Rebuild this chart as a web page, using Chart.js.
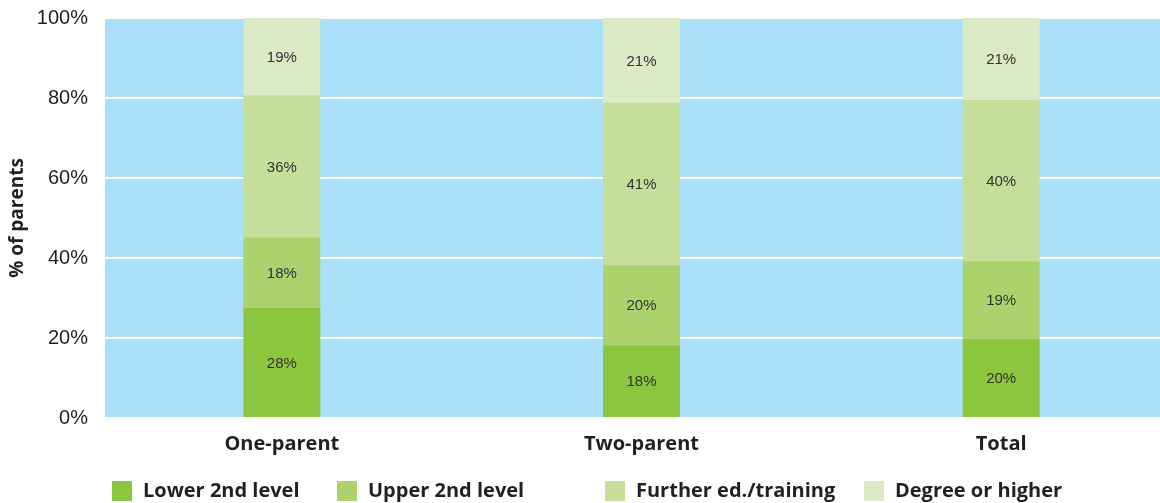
<!DOCTYPE html>
<html>
<head>
<meta charset="utf-8">
<script src="https://cdn.jsdelivr.net/npm/chart.js@4/dist/chart.umd.min.js"></script>
<style>
  html, body { margin: 0; padding: 0; background: #fff; overflow: hidden; }
  #wrap { width: 1181px; height: 503px; }
</style>
</head>
<body>
<div id="wrap"><canvas id="edu-chart"></canvas></div>
<script>
// data
var categories = ["One-parent", "Two-parent", "Total"];
var seriesNames = ["Lower 2nd level", "Upper 2nd level", "Further ed./training", "Degree or higher"];
var lowerSecond = [27.5, 18.2, 19.8];
var upperSecond = [17.6, 20.0, 19.4];
var furtherEd = [35.5, 40.6, 40.3];
var degree = [19.4, 21.2, 20.5];
var yTicks = [0, 20, 40, 60, 80, 100];

var colours = ["#8cc63f", "#acd26e", "#c5df9a", "#dce9c5"];
var plotBg = "#aae0fa";

var boldFont = "'Open Sans', 'Noto Sans', sans-serif";
var plainFont = "'Liberation Sans', Arial, sans-serif";

var canvasElement = document.getElementById("edu-chart");

var plotBackground = {
    id: "plotBackground",
    beforeDraw: function(chart) {
        var a = chart.chartArea, ctx = chart.ctx;
        ctx.save();
        ctx.fillStyle = plotBg;
        ctx.fillRect(a.left + 3, a.top, a.right - a.left, a.bottom - a.top);
        ctx.restore();
    }
};

var barLabels = {
    id: "barLabels",
    afterDatasetsDraw: function(chart) {
        var ctx = chart.ctx;
        ctx.save();
        ctx.font = "15px " + plainFont;
        ctx.fillStyle = "#333333";
        ctx.textAlign = "center";
        ctx.textBaseline = "middle";
        chart.data.datasets.forEach(function(ds, i) {
            chart.getDatasetMeta(i).data.forEach(function(bar, j) {
                var mid = (bar.y + bar.base) / 2;
                ctx.fillText(Math.round(ds.data[j]) + "%", bar.x, mid + 1);
            });
        });
        ctx.restore();
    }
};

// legend drawn by hand so the uneven spacing of the original can be kept
var legendX = [112, 337, 605, 864];
var customLegend = {
    id: "customLegend",
    afterDraw: function(chart) {
        var ctx = chart.ctx;
        ctx.save();
        ctx.font = "bold 20px " + boldFont;
        ctx.textBaseline = "middle";
        ctx.textAlign = "left";
        chart.data.datasets.forEach(function(ds, i) {
            ctx.fillStyle = ds.backgroundColor;
            ctx.fillRect(legendX[i], 481, 20, 20);
            ctx.fillStyle = "#231f20";
            ctx.fillText(ds.label, legendX[i] + 31, 491);
        });
        ctx.restore();
    }
};

var seriesData = [lowerSecond, upperSecond, furtherEd, degree];
var datasets = seriesData.map(function(vals, i) {
    return {
        label: seriesNames[i],
        data: vals,
        backgroundColor: colours[i],
        borderWidth: 0,
        categoryPercentage: 1.0,
        barPercentage: 0.214
    };
});

var config = {
    type: "bar",
    data: { labels: categories, datasets: datasets },
    options: {
        responsive: true,
        maintainAspectRatio: false,
        animation: false,
        layout: { padding: { top: 18, right: 0, bottom: 0, left: 0 } },
        plugins: {
            legend: { display: false },
            tooltip: { enabled: false }
        },
        scales: {
            x: {
                stacked: true,
                grid: { display: false, drawTicks: false },
                border: { display: false },
                ticks: {
                    color: "#231f20",
                    padding: 14,
                    font: { family: boldFont, size: 20, weight: "bold" }
                },
                afterFit: function(scale) {
                    scale.height = 85;
                    scale.paddingLeft = 0;
                    scale.paddingRight = 0;
                }
            },
            y: {
                stacked: true,
                min: 0,
                max: 100,
                afterBuildTicks: function(scale) {
                    scale.ticks = yTicks.map(function(v) { return { value: v }; });
                },
                grid: { color: "#ffffff", lineWidth: 2, drawTicks: false },
                border: { display: false },
                ticks: {
                    color: "#231f20",
                    padding: 14,
                    font: { family: plainFont, size: 20 },
                    callback: function(v) { return v + "%"; }
                },
                title: {
                    display: true,
                    text: "% of parents",
                    color: "#231f20",
                    padding: { top: 6, bottom: 0 },
                    font: { family: boldFont, size: 19, weight: "bold" }
                },
                afterFit: function(scale) {
                    scale.width = 102;
                    scale.paddingTop = 0;
                    scale.paddingBottom = 0;
                }
            }
        }
    },
    plugins: [plotBackground, barLabels, customLegend]
};

var barChart = new Chart(canvasElement, config);
</script>
</body>
</html>
